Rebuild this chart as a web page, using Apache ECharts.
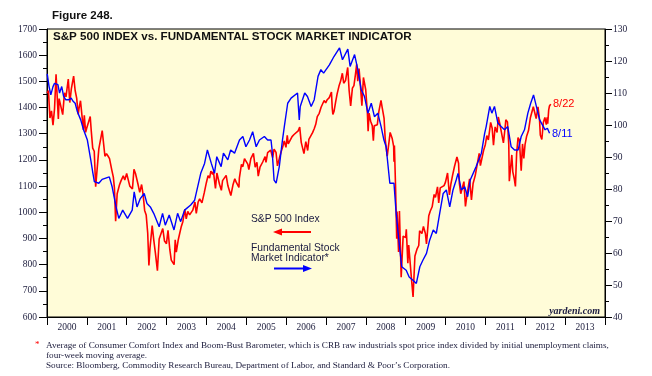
<!DOCTYPE html>
<html>
<head>
<meta charset="utf-8">
<script src="https://cdn.jsdelivr.net/npm/echarts@6/dist/echarts.min.js"></script>
<style>
html, body { margin: 0; padding: 0; background: #fff; }
#chart { width: 652px; height: 376px; }
</style>
</head>
<body>
<div id="chart"></div>
<script>
// year labels on the bottom axis
var years = ['2000', '2001', '2002', '2003', '2004', '2005', '2006', '2007', '2008', '2009', '2010', '2011', '2012', '2013'];

// S&P 500 index (left scale)
var spxDates = [
    '2000-01-03', '2000-01-14', '2000-01-28', '2000-02-11', '2000-02-25', '2000-03-10', '2000-03-24', '2000-04-14', '2000-04-21', '2000-05-05', '2000-05-24', '2000-06-09', '2000-06-23', '2000-07-14', '2000-07-28', '2000-08-11', '2000-09-01', '2000-09-15', '2000-09-29', '2000-10-13', '2000-10-20', '2000-11-03', '2000-11-17', '2000-11-30', '2000-12-08', '2000-12-20', '2000-12-29',
    '2001-01-12', '2001-01-31', '2001-02-09', '2001-02-23', '2001-03-09', '2001-03-22', '2001-04-04', '2001-04-20', '2001-05-21', '2001-06-15', '2001-06-29', '2001-07-13', '2001-07-27', '2001-08-17', '2001-08-31', '2001-09-10', '2001-09-21', '2001-10-05', '2001-10-26', '2001-11-09', '2001-11-30', '2001-12-14', '2001-12-31',
    '2002-01-11', '2002-01-29', '2002-02-08', '2002-02-22', '2002-03-08', '2002-03-22', '2002-04-12', '2002-04-30', '2002-05-17', '2002-05-31', '2002-06-14', '2002-06-28', '2002-07-12', '2002-07-23', '2002-08-02', '2002-08-22', '2002-09-06', '2002-09-20', '2002-10-09', '2002-10-25', '2002-11-08', '2002-11-27', '2002-12-13', '2002-12-31',
    '2003-01-14', '2003-01-31', '2003-02-13', '2003-03-11', '2003-03-21', '2003-03-31', '2003-04-17', '2003-04-30', '2003-05-16', '2003-05-30', '2003-06-17', '2003-06-30', '2003-07-14', '2003-07-31', '2003-08-14', '2003-08-29', '2003-09-18', '2003-09-30', '2003-10-17', '2003-10-31', '2003-11-14', '2003-11-21', '2003-12-12', '2003-12-31',
    '2004-01-16', '2004-01-30', '2004-02-11', '2004-02-27', '2004-03-05', '2004-03-24', '2004-04-06', '2004-04-30', '2004-05-17', '2004-05-28', '2004-06-14', '2004-06-30', '2004-07-16', '2004-07-30', '2004-08-12', '2004-08-31', '2004-09-17', '2004-09-30', '2004-10-25', '2004-10-29', '2004-11-17', '2004-11-30', '2004-12-15', '2004-12-31',
    '2005-01-14', '2005-01-24', '2005-02-11', '2005-02-28', '2005-03-07', '2005-03-23', '2005-04-08', '2005-04-20', '2005-05-06', '2005-05-31', '2005-06-22', '2005-06-30', '2005-07-15', '2005-07-29', '2005-08-12', '2005-08-30', '2005-09-12', '2005-09-30', '2005-10-13', '2005-10-31', '2005-11-15', '2005-11-30', '2005-12-14', '2005-12-30',
    '2006-01-11', '2006-01-20', '2006-02-03', '2006-02-24', '2006-03-14', '2006-03-31', '2006-04-21', '2006-05-05', '2006-05-19', '2006-06-13', '2006-06-30', '2006-07-17', '2006-07-28', '2006-08-15', '2006-08-31', '2006-09-15', '2006-09-29', '2006-10-13', '2006-10-31', '2006-11-17', '2006-11-30', '2006-12-15', '2006-12-29',
    '2007-01-12', '2007-01-31', '2007-02-20', '2007-02-27', '2007-03-05', '2007-03-16', '2007-03-30', '2007-04-13', '2007-04-30', '2007-05-15', '2007-05-31', '2007-06-12', '2007-06-29', '2007-07-19', '2007-08-01', '2007-08-15', '2007-08-31', '2007-09-14', '2007-09-28', '2007-10-09', '2007-10-19', '2007-10-31', '2007-11-13', '2007-11-26', '2007-12-10', '2007-12-31',
    '2008-01-15', '2008-01-22', '2008-01-31', '2008-02-14', '2008-02-29', '2008-03-10', '2008-03-18', '2008-03-31', '2008-04-15', '2008-04-30', '2008-05-19', '2008-05-30', '2008-06-16', '2008-06-27', '2008-07-15', '2008-07-31', '2008-08-11', '2008-08-29', '2008-09-12', '2008-09-15', '2008-09-19', '2008-09-29', '2008-10-10', '2008-10-13', '2008-10-27', '2008-11-04', '2008-11-20', '2008-12-08', '2008-12-31',
    '2009-01-06', '2009-01-20', '2009-01-28', '2009-02-09', '2009-02-23', '2009-03-09', '2009-03-26', '2009-04-13', '2009-04-30', '2009-05-08', '2009-05-29', '2009-06-12', '2009-06-30', '2009-07-10', '2009-07-31', '2009-08-14', '2009-08-31', '2009-09-18', '2009-09-30', '2009-10-19', '2009-10-30', '2009-11-13', '2009-11-30', '2009-12-18', '2009-12-31',
    '2010-01-19', '2010-02-05', '2010-02-19', '2010-03-05', '2010-03-23', '2010-04-15', '2010-04-30', '2010-05-07', '2010-05-20', '2010-06-04', '2010-06-18', '2010-07-02', '2010-07-16', '2010-07-30', '2010-08-09', '2010-08-26', '2010-09-10', '2010-09-30', '2010-10-15', '2010-10-29', '2010-11-05', '2010-11-16', '2010-11-30', '2010-12-15', '2010-12-31',
    '2011-01-14', '2011-01-28', '2011-02-18', '2011-03-04', '2011-03-16', '2011-03-31', '2011-04-18', '2011-04-29', '2011-05-13', '2011-05-31', '2011-06-15', '2011-06-30', '2011-07-07', '2011-07-22', '2011-08-03', '2011-08-08', '2011-08-19', '2011-08-31', '2011-09-09', '2011-09-22', '2011-10-03', '2011-10-14', '2011-10-27', '2011-11-08', '2011-11-25', '2011-12-07', '2011-12-19', '2011-12-30',
    '2012-01-13', '2012-01-31', '2012-02-17', '2012-02-29', '2012-03-15', '2012-03-30', '2012-04-10', '2012-04-27', '2012-05-11', '2012-05-18', '2012-06-01', '2012-06-15', '2012-06-29', '2012-07-12', '2012-07-20', '2012-07-25', '2012-08-03', '2012-08-10', '2012-08-22'
];
var spxValues = [
    1455, 1465, 1360, 1387, 1333, 1395, 1527, 1356, 1434, 1432, 1373, 1456, 1441, 1509, 1419, 1471, 1520, 1465, 1436, 1374, 1396, 1426, 1367, 1315, 1370, 1305, 1320,
    1318, 1366, 1314, 1245, 1233, 1098, 1103, 1242, 1312, 1214, 1224, 1215, 1205, 1161, 1134, 1092, 966, 1071, 1104, 1120, 1139, 1123, 1148,
    1146, 1100, 1096, 1089, 1164, 1148, 1111, 1076, 1106, 1067, 1007, 990, 921, 797, 864, 949, 893, 846, 777, 898, 895, 938, 890, 880,
    931, 856, 817, 800, 895, 848, 893, 917, 946, 964, 1011, 975, 1003, 990, 990, 1008, 1039, 996, 1039, 1051, 1050, 1036, 1074, 1112,
    1140, 1131, 1157, 1145, 1156, 1091, 1150, 1107, 1084, 1121, 1125, 1141, 1101, 1102, 1064, 1104, 1128, 1115, 1095, 1130, 1183, 1174, 1205, 1212,
    1184, 1163, 1205, 1204, 1225, 1172, 1191, 1138, 1172, 1192, 1213, 1191, 1228, 1234, 1237, 1209, 1241, 1229, 1177, 1207, 1230, 1249, 1272, 1248,
    1294, 1261, 1265, 1289, 1297, 1295, 1311, 1325, 1267, 1224, 1270, 1236, 1278, 1285, 1304, 1319, 1336, 1365, 1378, 1401, 1401, 1427, 1418,
    1430, 1438, 1459, 1399, 1374, 1386, 1421, 1452, 1482, 1501, 1531, 1493, 1503, 1553, 1465, 1406, 1474, 1484, 1527, 1565, 1501, 1549, 1481, 1407, 1515, 1468,
    1381, 1310, 1379, 1348, 1331, 1273, 1330, 1323, 1334, 1386, 1427, 1400, 1360, 1278, 1214, 1267, 1305, 1283, 1252, 1193, 1255, 1106, 899, 1003, 848, 1005, 752, 909, 903,
    935, 805, 875, 870, 743, 677, 833, 858, 873, 929, 919, 946, 919, 879, 987, 1005, 1021, 1068, 1057, 1097, 1036, 1093, 1096, 1102, 1115,
    1150, 1066, 1109, 1139, 1174, 1211, 1187, 1111, 1071, 1064, 1117, 1022, 1065, 1102, 1128, 1047, 1110, 1141, 1176, 1183, 1225, 1178, 1181, 1236, 1258,
    1293, 1276, 1343, 1321, 1256, 1326, 1305, 1364, 1338, 1345, 1265, 1321, 1353, 1345, 1260, 1119, 1124, 1219, 1154, 1129, 1099, 1224, 1285, 1276, 1159, 1261, 1206, 1258,
    1289, 1312, 1361, 1366, 1403, 1408, 1358, 1403, 1353, 1295, 1278, 1343, 1362, 1335, 1363, 1338, 1391, 1406, 1413
];

// Fundamental Stock Market Indicator (right scale)
var fsmiDates = [
    '2000-01-03', '2000-01-20', '2000-02-05', '2000-02-25', '2000-03-10', '2000-04-10', '2000-04-25', '2000-05-15', '2000-06-01', '2000-06-20', '2000-07-20', '2000-08-10', '2000-08-25', '2000-09-15', '2000-10-05', '2000-11-05', '2000-12-01',
    '2001-01-05', '2001-02-05', '2001-02-25', '2001-03-10', '2001-04-20', '2001-05-20', '2001-07-25', '2001-08-20', '2001-09-25', '2001-10-20', '2001-11-25',
    '2002-01-08', '2002-02-20', '2002-03-10', '2002-04-05', '2002-05-05', '2002-06-10', '2002-07-05', '2002-08-05', '2002-09-05', '2002-10-25', '2002-11-25', '2002-12-20',
    '2003-01-25', '2003-03-10', '2003-04-12', '2003-05-10', '2003-06-15', '2003-08-10', '2003-09-15', '2003-11-10', '2003-12-15',
    '2004-01-10', '2004-02-15', '2004-03-15', '2004-04-05', '2004-05-15', '2004-06-05', '2004-07-15', '2004-08-10', '2004-09-15', '2004-10-30', '2004-11-30', '2004-12-28',
    '2005-01-30', '2005-02-28', '2005-04-01', '2005-05-01', '2005-06-15', '2005-07-15', '2005-08-15', '2005-08-25', '2005-09-12', '2005-10-01', '2005-10-30', '2005-11-28', '2005-12-15',
    '2006-01-15', '2006-02-15', '2006-03-05', '2006-04-15', '2006-05-01', '2006-05-10', '2006-06-20', '2006-07-15', '2006-08-18', '2006-09-15', '2006-10-20', '2006-11-15', '2006-12-10',
    '2007-02-01', '2007-03-15', '2007-05-05', '2007-06-01', '2007-07-20', '2007-08-10', '2007-09-20', '2007-10-20', '2007-11-20', '2007-12-20',
    '2008-01-20', '2008-02-20', '2008-03-20', '2008-04-20', '2008-05-20', '2008-06-15', '2008-07-05', '2008-08-08', '2008-09-15', '2008-10-05', '2008-11-05', '2008-11-25',
    '2009-01-05', '2009-02-01', '2009-03-08', '2009-04-08', '2009-05-10', '2009-06-08', '2009-07-10', '2009-08-08', '2009-09-10', '2009-10-08', '2009-11-08', '2009-12-10',
    '2010-01-08', '2010-02-08', '2010-03-10', '2010-04-08', '2010-04-25', '2010-05-25', '2010-06-25', '2010-07-22', '2010-08-15', '2010-10-08', '2010-11-25', '2010-12-25',
    '2011-01-08', '2011-02-10', '2011-03-01', '2011-03-25', '2011-04-25', '2011-05-25', '2011-06-25', '2011-07-25', '2011-08-25', '2011-09-25', '2011-10-28', '2011-11-25', '2011-12-25',
    '2012-01-25', '2012-02-20', '2012-03-17', '2012-04-12', '2012-05-12', '2012-06-15', '2012-07-01', '2012-07-22', '2012-08-11'
];
var fsmiValues = [
    116.0, 112.0, 109.4, 112.0, 113.0, 112.6, 110.0, 112.0, 109.0, 107.9, 107.9, 108.4, 107.5, 106.8, 104.2, 101.6, 98.5,
    95.3, 89.1, 84.9, 82.3, 81.8, 83.0, 83.8, 80.7, 74.4, 70.8, 73.4,
    70.8, 73.4, 79.1, 74.4, 77.0, 78.6, 75.5, 74.4, 72.4, 68.2, 72.4, 68.7,
    71.9, 67.2, 72.4, 69.8, 73.4, 75.0, 76.5, 84.9, 88.0,
    92.2, 88.0, 84.9, 90.1, 87.0, 91.2, 89.1, 92.2, 91.2, 95.3, 96.4, 93.2,
    95.3, 97.9, 93.2, 95.3, 96.4, 95.3, 95.3, 92.2, 82.8, 81.8, 87.0, 95.3, 99.5,
    106.8, 108.4, 107.9, 110.0, 101.6, 105.8, 110.0, 108.9, 105.8, 107.9, 115.2, 117.3, 116.2,
    118.8, 121.4, 124.1, 120.4, 123.7, 118.3, 122.0, 117.3, 111.0, 108.9,
    103.7, 106.8, 102.6, 103.7, 99.5, 95.3, 93.2, 81.8, 81.8, 72.4, 61.9, 55.7,
    54.6, 52.5, 51.5, 50.5, 55.7, 57.8, 59.9, 64.0, 67.2, 66.1, 72.4, 78.6,
    79.7, 74.4, 79.7, 82.8, 84.9, 79.7, 80.7, 77.6, 82.8, 87.0, 91.2, 97.4,
    99.5, 105.8, 103.7, 105.8, 100.6, 99.5, 98.5, 99.5, 93.2, 92.2, 92.2, 96.4, 98.5,
    103.7, 106.8, 109.4, 105.8, 101.6, 99.5, 98.5, 99.0, 97.4
];

var tickColor = '#1c1c3c';
var serif = 'Liberation Serif';
var sans = 'Liberation Sans';

function pairs(dates, values) {
    var out = [];
    for (var i = 0; i < dates.length; i++) {
        out.push([dates[i], values[i]]);
    }
    return out;
}

function arrow(x1, x2, y, color) {
    // line with a head at x2
    var dir = x2 > x1 ? 1 : -1;
    return [
        { type: 'line', shape: { x1: x1, y1: y, x2: x2 - dir * 6, y2: y }, style: { stroke: color, lineWidth: 2 } },
        { type: 'polygon', shape: { points: [[x2, y], [x2 - dir * 9, y - 3.5], [x2 - dir * 9, y + 3.5]] }, style: { fill: color } }
    ];
}

function txt(x, y, text, font, color, align) {
    return {
        type: 'text', x: x, y: y,
        style: { text: text, font: font, fill: color, align: align || 'left', verticalAlign: 'middle' }
    };
}

var myChart = echarts.init(document.getElementById('chart'));

var graphics = [
    txt(52, 16, 'Figure 248.', 'bold 11.5px ' + sans, '#111'),
    txt(53, 37, 'S&P 500 INDEX vs. FUNDAMENTAL STOCK MARKET INDICATOR', 'bold 11.6px ' + sans, '#111'),
    txt(251, 219, 'S&P 500 Index', '10.3px ' + sans, '#1a1a40'),
    txt(251, 248, 'Fundamental Stock', '10.3px ' + sans, '#1a1a40'),
    txt(251, 258.5, 'Market Indicator*', '10.3px ' + sans, '#1a1a40'),
    txt(553, 103.5, '8/22', '11px ' + sans, '#ff0000'),
    txt(552, 134, '8/11', '11px ' + sans, '#0000ff'),
    txt(600, 311, 'yardeni.com', 'italic bold 10px ' + serif, '#1a1a40', 'right'),
    txt(35, 345, '*', '9px ' + serif, '#ff0000'),
    txt(46, 345.5, 'Average of Consumer Comfort Index and Boom-Bust Barometer, which is CRB raw industrials spot price index divided by initial unemployment claims,', '9.2px ' + serif, tickColor),
    txt(46, 355.5, 'four-week moving average.', '9.2px ' + serif, tickColor),
    txt(46, 366, 'Source: Bloomberg, Commodity Research Bureau, Department of Labor, and Standard & Poor\u2019s Corporation.', '9.2px ' + serif, tickColor)
].concat(arrow(311, 273, 232, '#ff0000')).concat(arrow(274, 312, 268.5, '#0000ff'));

var option = {
    animation: false,
    backgroundColor: '#ffffff',
    grid: {
        left: 47, right: 47, top: 29, bottom: 59,
        show: true,
        backgroundColor: '#fffcd8',
        borderColor: '#000',
        borderWidth: 1
    },
    xAxis: [
        {
            type: 'category',
            data: years,
            boundaryGap: true,
            position: 'bottom',
            axisLine: { show: true, lineStyle: { color: '#000', width: 1 } },
            axisTick: { show: true, interval: 0, length: 8, lineStyle: { color: '#000' } },
            axisLabel: { interval: 0, margin: 5, fontFamily: serif, fontSize: 9.5, color: tickColor },
            splitLine: { show: false }
        },
        {
            type: 'time',
            min: '2000-01-01',
            max: '2014-01-01',
            show: false
        }
    ],
    yAxis: [
        {
            type: 'value',
            position: 'left',
            min: 600, max: 1700, interval: 100,
            axisLine: { show: true, lineStyle: { color: '#000', width: 1 } },
            axisTick: { show: true, length: 8, lineStyle: { color: '#000' } },
            minorTick: { show: true, splitNumber: 2, length: 4, lineStyle: { color: '#000' } },
            axisLabel: {
                margin: 10, fontFamily: serif, fontSize: 9.5, color: tickColor,
                formatter: function (v) { return String(v); }
            },
            splitLine: { show: false }
        },
        {
            type: 'value',
            position: 'right',
            min: 40, max: 130, interval: 10,
            axisLine: { show: true, lineStyle: { color: '#000', width: 1 } },
            axisTick: { show: true, length: 7, lineStyle: { color: '#000' } },
            minorTick: { show: true, splitNumber: 2, length: 4, lineStyle: { color: '#000' } },
            axisLabel: {
                margin: 8, fontFamily: serif, fontSize: 9.5, color: tickColor,
                formatter: function (v) { return String(v); }
            },
            splitLine: { show: false }
        }
    ],
    series: [
        {
            name: 'S&P 500 Index',
            type: 'line',
            xAxisIndex: 1,
            yAxisIndex: 0,
            showSymbol: false,
            lineStyle: { color: '#ff0000', width: 1.6 },
            data: pairs(spxDates, spxValues)
        },
        {
            name: 'Fundamental Stock Market Indicator',
            type: 'line',
            xAxisIndex: 1,
            yAxisIndex: 1,
            showSymbol: false,
            lineStyle: { color: '#0000ff', width: 1.4 },
            data: pairs(fsmiDates, fsmiValues)
        }
    ],
    graphic: graphics
};
myChart.setOption(option);
</script>
</body>
</html>
